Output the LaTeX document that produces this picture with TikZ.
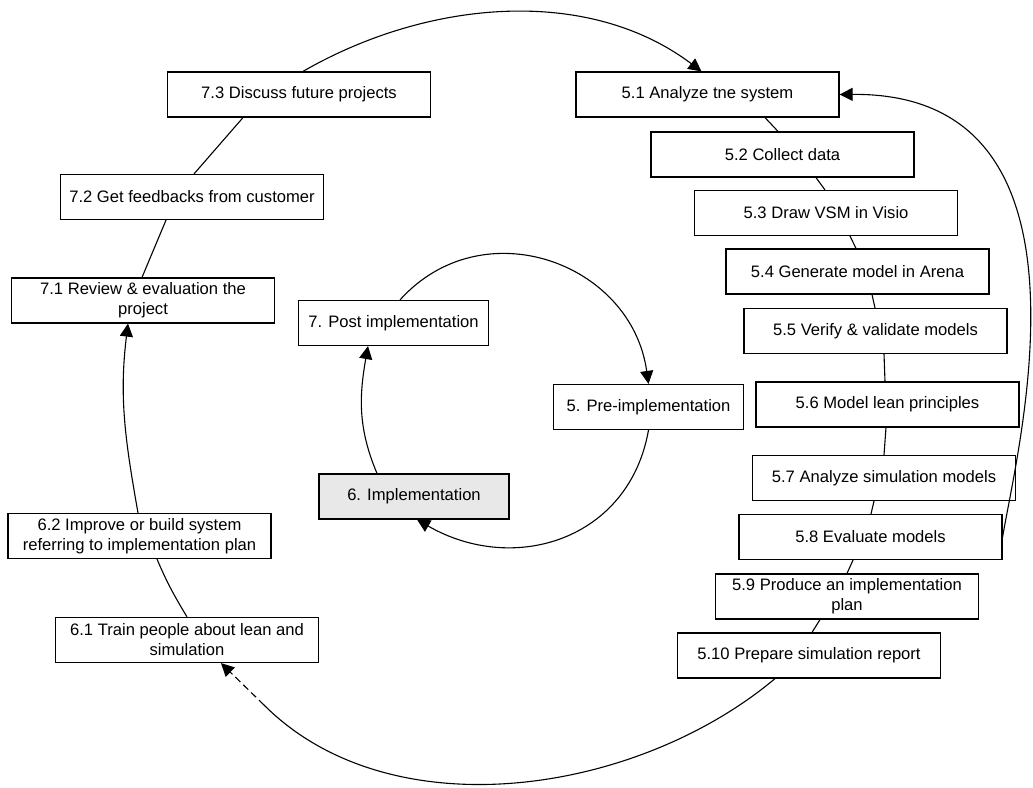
\documentclass[tikz,border=0pt]{standalone}
\usepackage{fontspec}
\setmainfont{Liberation Sans}
\usetikzlibrary{arrows.meta}

\begin{document}
\begin{tikzpicture}[
  x=1pt, y=-1pt,
  every node/.style={font=\fontsize{16.6}{20}\selectfont, text=black},
  stepbox/.style={draw=black, line width=1.2pt, fill=white, minimum width=263pt,
                  minimum height=45pt, inner sep=0pt, align=center},
  phasebox/.style={stepbox, minimum width=190pt},
  link/.style={draw=black, line width=1.1pt},
  arr/.style={link, -{Triangle[length=13pt,width=13pt]}}
]
\useasboundingbox (0,0) rectangle (1033,787);

% step boxes of phase 7
\node[stepbox] (n73) at (299,94.5)  {7.3 Discuss future projects};
\node[stepbox] (n72) at (192,197)   {7.2 Get feedbacks from customer};
\node[stepbox] (n71) at (143,300.5) {7.1 Review \& evaluation the\\project};

% step boxes of phase 5
\node[stepbox] (n51)  at (707.5,94.5) {5.1 Analyze tne system};
\node[stepbox] (n52)  at (782.5,154.5) {5.2 Collect data};
\node[stepbox] (n53)  at (826,213)   {5.3 Draw VSM in Visio};
\node[stepbox] (n54)  at (857.5,271.5) {5.4 Generate model in Arena};
\node[stepbox] (n55)  at (875.5,331) {5.5 Verify \& validate models};
\node[stepbox] (n56)  at (887.5,404.5) {5.6 Model lean principles};
\node[stepbox] (n57)  at (884,478)   {5.7 Analyze simulation models};
\node[stepbox] (n58)  at (870.5,537) {5.8 Evaluate models};
\node[stepbox] (n59)  at (847,596.5) {5.9 Produce an implementation\\plan};
\node[stepbox] (n510) at (809,655.5) {5.10 Prepare simulation report};

% step boxes of phase 6
\node[stepbox] (n62) at (139.5,536) {6.2 Improve or build system\\referring to implementation plan};
\node[stepbox] (n61) at (187,640)   {6.1 Train people about lean and\\simulation};

% the three phases
\node[phasebox] (npost) at (393.5,323) {7. Post implementation};
\node[phasebox] (npre)  at (648.5,407) {5. Pre-implementation};
\node[phasebox, fill=gray!18] (nimpl) at (414,496.5) {6. Implementation};

% inner cycle of phases
\draw[arr] ([xshift=6.5pt]npost.north) to[out=48,in=98,looseness=1.2] (npre.north);
\draw[arr] (npre.south) to[out=-100,in=-30,looseness=1.15] ([xshift=3pt]nimpl.south);
\draw[arr] ([xshift=-37pt]nimpl.north) to[out=113,in=-100] ([xshift=-25.5pt]npost.south);

% outer cycle: phase 5 chain
\draw[link] ([xshift=57.5pt]n51.south) -- ([xshift=-4.5pt]n52.north);
\draw[link] ([xshift=33.5pt]n52.south) -- ([xshift=-1pt]n53.north);
\draw[link] ([xshift=24pt]n53.south) -- ([xshift=-1.5pt]n54.north);
\draw[link] ([xshift=14.5pt]n54.south) -- ([xshift=-0.5pt]n55.north);
\draw[link] ([xshift=8.5pt]n55.south) -- ([xshift=-2.5pt]n56.north);
\draw[link] ([xshift=-1.5pt]n56.south) -- (n57.north);
\draw[link] ([xshift=-10pt]n57.south) -- ([xshift=0.5pt]n58.north);
\draw[link] ([xshift=-17.5pt]n58.south) -- (n59.north);
\draw[link] ([xshift=-27pt]n59.south) -- ([xshift=3pt]n510.north);

% outer cycle: from phase 5 to phase 6
\coordinate (dashstart) at (264,705);
\draw[link] ([xshift=-34pt]n510.south) to[out=-140,in=-45,looseness=0.9] (dashstart);
\draw[arr, dash pattern=on 7pt off 4pt] (dashstart) -- ([xshift=34pt]n61.south);

% outer cycle: phase 6 and phase 7 chain
\draw[link] (n61.north) to[out=121,in=-67] ([xshift=17.5pt]n62.south);
\draw[arr] ([xshift=-1.5pt]n62.north) to[out=100,in=-97] ([xshift=-15pt]n71.south);
\draw[link] ([xshift=-1pt]n71.north) -- ([xshift=-26pt]n72.south);
\draw[link] ([xshift=2pt]n72.north) -- ([xshift=-56pt]n73.south);
\draw[arr] ([xshift=4pt]n73.north) to[out=30,in=143,looseness=0.92] ([xshift=-6pt]n51.north);

% feedback from evaluation back to analysis
\draw[arr] (n58.east) .. controls (1018,445) and (1109,92) .. (n51.east);
\end{tikzpicture}
\end{document}
